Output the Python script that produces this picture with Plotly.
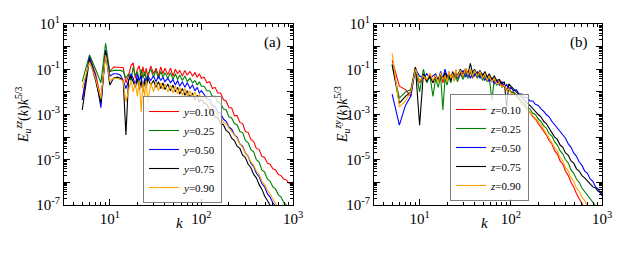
import plotly.graph_objects as go

# wavenumbers (shared grid)
k = [5, 6, 7, 8, 9, 10, 11, 12, 13, 14, 15, 16, 17, 18, 19, 20, 21, 22, 23, 24, 25, 26,
     28, 30, 32, 34, 36, 38, 40,
     43, 46, 49, 52, 55, 58,
     62, 66, 70,
     75, 80, 85, 90, 95, 100,
     107, 115, 123, 132, 141, 151, 162, 174, 186, 200, 214, 229, 245, 263, 282, 302, 324, 347,
     372, 398, 427, 457, 490, 525, 562, 603, 646, 692, 741, 794, 851, 912, 977, 1000]

# panel (a): log10 of E_u^zz(k) k^{5/3}
a_y010 = [-2.36, -0.45, -1.20, -2.30, -0.30, -1.10, -0.90, -0.90, -0.92, -0.92, -1.60, -1.30, -0.85, -0.72, -1.40, -1.00, -0.85, -1.45, -0.88, -1.30, -0.95, -1.40,
          -0.85, -1.20, -0.95, -1.30, -0.90, -1.20, -0.95,
          -1.25, -0.95, -1.30, -1.00, -1.20, -1.05,
          -1.30, -1.05, -1.25,
          -1.10, -1.30, -1.15, -1.35, -1.20, -1.40,
          -1.35, -1.60, -1.55, -1.85, -1.80, -2.05, -2.05, -2.35, -2.40, -2.70, -2.70, -3.05, -3.05, -3.35, -3.40, -3.75, -3.80,
          -4.10, -4.20, -4.50, -4.55, -4.85, -4.90, -5.15, -5.20, -5.40, -5.45, -5.65, -5.70, -5.85, -5.90, -6.05, -6.10, -6.15]
a_y025 = [-1.55, -0.36, -1.00, -1.60, 0.15, -1.10, -1.05, -1.05, -1.05, -1.10, -1.40, -1.20, -1.50, -0.90, -1.30, -1.10, -1.60, -1.00, -1.40, -1.10, -1.50, -1.20,
          -1.00, -1.35, -1.05, -1.40, -1.10, -1.35, -1.15,
          -1.40, -1.15, -1.45, -1.20, -1.45, -1.25,
          -1.50, -1.30, -1.55,
          -1.40, -1.60, -1.50, -1.70, -1.55, -1.75,
          -1.75, -1.95, -1.95, -2.20, -2.20, -2.45, -2.50, -2.75, -2.80, -3.10, -3.15, -3.40, -3.45, -3.75, -3.80, -4.15, -4.25,
          -4.55, -4.65, -5.00, -5.10, -5.45, -5.55, -5.85, -5.95, -6.20, -6.30, -6.55, -6.65, -6.90, -7.00, -7.30, -7.50, -7.60]
a_y050 = [-2.36, -0.45, -1.30, -2.70, -0.15, -1.30, -1.20, -1.20, -1.25, -1.50, -1.85, -1.50, -1.20, -1.40, -1.70, -1.20, -1.50, -1.30, -1.90, -1.40, -1.60, -1.30,
          -1.50, -1.30, -1.55, -1.30, -1.50, -1.35, -1.55,
          -1.40, -1.60, -1.45, -1.70, -1.50, -1.75,
          -1.55, -1.80, -1.60,
          -1.85, -1.70, -1.95, -1.80, -2.05, -1.95,
          -2.10, -2.30, -2.35, -2.60, -2.65, -2.90, -2.95, -3.20, -3.30, -3.55, -3.65, -3.90, -4.00, -4.30, -4.40, -4.70, -4.85,
          -5.15, -5.30, -5.60, -5.75, -6.05, -6.20, -6.50, -6.65, -6.90, -7.05, -7.30, -7.50, -7.80, -8.00, -8.20, -8.40, -8.50]
a_y075 = [-2.80, -0.55, -1.50, -2.50, -0.20, -1.70, -1.40, -1.35, -1.40, -1.50, -3.90, -1.50, -1.30, -1.60, -1.80, -1.40, -1.90, -1.50, -2.00, -1.50, -1.80, -1.40,
          -1.70, -1.50, -1.80, -1.55, -1.85, -1.60, -1.90,
          -1.65, -1.95, -1.70, -2.00, -1.80, -2.10,
          -1.85, -2.15, -1.95,
          -2.25, -2.05, -2.35, -2.15, -2.45, -2.30,
          -2.50, -2.55, -2.80, -2.85, -3.10, -3.15, -3.40, -3.45, -3.70, -3.80, -4.05, -4.15, -4.40, -4.50, -4.80, -4.90, -5.20,
          -5.35, -5.65, -5.80, -6.10, -6.30, -6.60, -6.80, -7.05, -7.30, -7.50, -7.70, -7.90, -8.10, -8.30, -8.50, -8.70, -8.80]
a_y090 = [-1.83, -0.67, -1.40, -2.30, -0.37, -1.50, -1.40, -1.40, -1.45, -1.50, -2.44, -1.90, -1.50, -2.00, -1.60, -2.20, -1.50, -2.90, -1.60, -2.20, -1.50, -2.50,
          -1.60, -2.00, -1.55, -1.95, -1.60, -1.90, -1.65,
          -2.00, -1.70, -2.05, -1.75, -2.10, -1.80,
          -2.15, -1.85, -2.20,
          -1.95, -2.25, -2.00, -2.30, -2.10, -2.35,
          -2.20, -2.45, -2.50, -2.75, -2.80, -3.05, -3.10, -3.35, -3.40, -3.60, -3.75, -3.95, -4.05, -4.30, -4.45, -4.70, -4.85,
          -5.10, -5.25, -5.50, -5.65, -5.95, -6.10, -6.35, -6.50, -6.75, -6.90, -7.10, -7.30, -7.50, -7.70, -7.90, -8.10, -8.20]

# panel (b): log10 of E_u^zy(k) k^{5/3}
b_z010 = [-0.60, -1.75, -1.90, -2.20, -0.90, -1.60, -1.30, -1.55, -1.20, -1.60, -1.30, -1.50, -1.20, -1.60, -1.30, -1.50, -1.10, -1.40, -1.20, -1.50, -1.15, -1.40,
          -1.10, -1.35, -1.05, -1.30, -1.10, -1.40, -1.15,
          -1.35, -1.10, -1.40, -1.20, -1.50, -1.30,
          -1.55, -1.40, -1.60,
          -1.50, -1.75, -1.65, -1.90, -1.80, -2.00,
          -2.05, -2.20, -2.30, -2.50, -2.60, -2.80, -2.90, -3.10, -3.20, -3.40, -3.55, -3.75, -3.90, -4.15, -4.30, -4.60, -4.75,
          -5.05, -5.20, -5.50, -5.70, -6.00, -6.20, -6.50, -6.70, -6.95, -7.15, -7.40, -7.60, -7.85, -8.05, -8.30, -8.50, -8.60]
b_z025 = [-0.80, -2.28, -2.00, -1.90, -0.95, -2.00, -1.00, -1.60, -1.30, -2.20, -1.40, -1.80, -1.30, -2.80, -1.40, -1.70, -1.30, -1.60, -1.20, -1.50, -1.30, -1.55,
          -1.20, -1.45, -1.15, -1.40, -1.10, -1.35, -1.15,
          -1.40, -1.20, -1.50, -1.25, -1.55, -1.35,
          -2.36, -1.45, -1.70,
          -1.60, -1.80, -1.70, -1.95, -1.80, -2.00,
          -2.00, -2.15, -2.25, -2.45, -2.50, -2.70, -2.75, -2.95, -3.00, -3.20, -3.30, -3.50, -3.60, -3.85, -3.95, -4.20, -4.35,
          -4.60, -4.75, -5.00, -5.15, -5.45, -5.60, -5.85, -6.00, -6.25, -6.40, -6.60, -6.75, -6.90, -7.00, -7.20, -7.35, -7.45]
b_z050 = [-2.10, -3.47, -2.60, -2.20, -1.00, -1.30, -1.40, -1.20, -1.40, -1.30, -1.20, -1.50, -1.10, -1.40, -1.00, -1.30, -1.20, -1.50, -1.20, -1.40, -1.10, -1.40,
          -1.20, -1.05, -1.35, -1.10, -1.40, -1.15, -1.30,
          -1.10, -1.40, -1.20, -1.50, -1.30, -1.55,
          -1.40, -1.65, -1.50,
          -1.70, -1.55, -1.80, -1.65, -1.90, -1.80,
          -1.95, -1.90, -2.10, -2.10, -2.25, -2.25, -2.40, -2.40, -2.55, -2.60, -2.75, -2.85, -3.00, -3.10, -3.30, -3.45, -3.60,
          -3.75, -3.95, -4.05, -4.30, -4.45, -4.70, -4.85, -5.10, -5.25, -5.50, -5.60, -5.85, -5.95, -6.20, -6.30, -6.55, -6.60]
b_z075 = [-0.80, -2.50, -2.20, -2.00, -0.90, -3.47, -1.20, -1.50, -1.30, -1.60, -1.25, -1.50, -1.20, -1.45, -1.15, -1.40, -1.25, -1.50, -1.10, -1.35, -1.05, -1.30,
          -1.00, -1.25, -0.95, -1.20, -0.74, -1.15, -1.00,
          -1.25, -1.05, -1.30, -1.10, -1.35, -1.20,
          -1.45, -1.30, -1.50,
          -1.45, -1.65, -1.55, -2.70, -1.65, -1.75,
          -1.85, -2.00, -2.10, -2.25, -2.35, -2.50, -2.60, -2.75, -2.85, -3.00, -3.10, -3.30, -3.40, -3.60, -3.75, -4.00, -4.10,
          -4.35, -4.45, -4.70, -4.80, -5.05, -5.15, -5.40, -5.50, -5.70, -5.80, -5.95, -6.05, -6.20, -6.25, -6.40, -6.45, -6.50]
b_z090 = [-0.30, -2.66, -2.40, -2.00, -1.00, -1.50, -1.30, -1.45, -1.20, -1.50, -1.25, -1.60, -1.15, -1.45, -1.30, -1.55, -1.10, -1.40, -1.20, -1.55, -1.00, -1.35,
          -1.05, -1.30, -0.95, -1.25, -1.00, -1.30, -1.05,
          -1.30, -1.10, -1.40, -1.20, -1.50, -1.30,
          -1.55, -1.40, -1.65,
          -1.60, -1.80, -1.70, -1.95, -1.85, -2.05,
          -2.10, -2.25, -2.35, -2.55, -2.65, -2.80, -2.90, -3.05, -3.15, -3.30, -3.45, -3.65, -3.80, -4.05, -4.20, -4.45, -4.60,
          -4.90, -5.05, -5.35, -5.50, -5.80, -5.95, -6.25, -6.40, -6.65, -6.80, -7.05, -7.20, -7.45, -7.65, -7.90, -8.10, -8.20]

labels_a = ["<i>y</i>=0.10", "<i>y</i>=0.25", "<i>y</i>=0.50", "<i>y</i>=0.75", "<i>y</i>=0.90"]
labels_b = ["<i>z</i>=0.10", "<i>z</i>=0.25", "<i>z</i>=0.50", "<i>z</i>=0.75", "<i>z</i>=0.90"]
colors = ["#ff0000", "#008000", "#0000ff", "#000000", "#ffa500"]

x_tickvals = [10, 100, 1000]
x_ticktext = ["10<sup>1</sup>", "10<sup>2</sup>", "10<sup>3</sup>"]
y_tickvals = [1e-7, 1e-6, 1e-5, 1e-4, 1e-3, 1e-2, 1e-1, 1, 10]
y_ticktext = ["10<sup>-7</sup>", "", "10<sup>-5</sup>", "", "10<sup>-3</sup>", "", "10<sup>-1</sup>", "", "10<sup>1</sup>"]

FONT = "Liberation Serif"
W, H = 628, 253
OFF = 8  # page body margin in the browser


def px(xp):
    return (xp - OFF) / W


def py(yp):
    return 1 - (yp - OFF) / H


fig = go.Figure()
series_a = [a_y010, a_y025, a_y050, a_y075, a_y090]
series_b = [b_z010, b_z025, b_z050, b_z075, b_z090]
for vals, lab, col in zip(series_a, labels_a, colors):
    fig.add_trace(go.Scatter(x=k, y=[10 ** v for v in vals], mode="lines", name=lab,
                             line=dict(color=col, width=1.1), xaxis="x", yaxis="y",
                             legend="legend"))
for vals, lab, col in zip(series_b, labels_b, colors):
    fig.add_trace(go.Scatter(x=k, y=[10 ** v for v in vals], mode="lines", name=lab,
                             line=dict(color=col, width=1.1), xaxis="x2", yaxis="y2",
                             legend="legend2"))

minor_x = [m * 10 ** e for e in range(0, 3) for m in range(2, 10)]
minor_y = [m * 10.0 ** e for e in range(-7, 1) for m in range(2, 10)]


def xaxis(domain, anchor):
    return dict(type="log", range=[0.5, 3], domain=domain, anchor=anchor,
                tickmode="array", tickvals=x_tickvals, ticktext=x_ticktext,
                ticks="inside", ticklen=6, tickwidth=1, tickcolor="black",
                mirror="allticks", showline=True, linecolor="black", linewidth=1,
                showgrid=False, zeroline=False, automargin=False,
                tickfont=dict(family=FONT, size=15, color="black"),
                minor=dict(tickmode="array", tickvals=minor_x, ticks="inside",
                           ticklen=3, tickcolor="black", showgrid=False))


def yaxis(domain, anchor):
    return dict(type="log", range=[-7, 1], domain=domain, anchor=anchor,
                tickmode="array", tickvals=y_tickvals, ticktext=y_ticktext,
                ticks="inside", ticklen=6, tickwidth=1, tickcolor="black",
                mirror="allticks", showline=True, linecolor="black", linewidth=1,
                showgrid=False, zeroline=False, automargin=False,
                tickfont=dict(family=FONT, size=15, color="black"),
                minor=dict(tickmode="array", tickvals=minor_y, ticks="inside",
                           ticklen=3, tickcolor="black", showgrid=False))


ydom = [py(205), py(24)]
legend_style = dict(bgcolor="rgba(255,255,255,0.8)", bordercolor="#808080", borderwidth=1,
                    font=dict(family=FONT, size=11, color="black"),
                    xanchor="left", yanchor="bottom", tracegroupgap=0, itemwidth=30)

ann_font = dict(family=FONT, size=15, color="black")
lab_font = dict(family=FONT, size=14, color="black")

fig.update_layout(
    width=W, height=H,
    margin=dict(l=0, r=0, t=0, b=0),
    paper_bgcolor="white", plot_bgcolor="white",
    xaxis=xaxis([px(64), px(293)], "y"),
    yaxis=yaxis(ydom, "x"),
    xaxis2=xaxis([px(374), px(602)], "y2"),
    yaxis2=yaxis(ydom, "x2"),
    legend=dict(x=px(143), y=py(203), **legend_style),
    legend2=dict(x=px(450), y=py(201), **legend_style),
    showlegend=True,
    annotations=[
        dict(text="(a)", x=px(272), y=py(43), xref="paper", yref="paper", showarrow=False,
             xanchor="center", yanchor="middle", font=ann_font),
        dict(text="(b)", x=px(579), y=py(43), xref="paper", yref="paper", showarrow=False,
             xanchor="center", yanchor="middle", font=ann_font),
        dict(text="<i>k</i>", x=px(179), y=py(223), xref="paper", yref="paper", showarrow=False,
             xanchor="center", yanchor="middle", font=ann_font),
        dict(text="<i>k</i>", x=px(484), y=py(223), xref="paper", yref="paper", showarrow=False,
             xanchor="center", yanchor="middle", font=ann_font),
        dict(text="<i>E</i><sub><i>u</i></sub><sup><i>zz</i></sup>(<i>k</i>)<i>k</i><sup>5/3</sup>",
             x=px(23), y=py(115), xref="paper", yref="paper", textangle=-90, showarrow=False,
             xanchor="center", yanchor="middle", font=lab_font),
        dict(text="<i>E</i><sub><i>u</i></sub><sup><i>zy</i></sup>(<i>k</i>)<i>k</i><sup>5/3</sup>",
             x=px(342), y=py(115), xref="paper", yref="paper", textangle=-90, showarrow=False,
             xanchor="center", yanchor="middle", font=lab_font),
    ],
)

fig.write_html("out.html")
